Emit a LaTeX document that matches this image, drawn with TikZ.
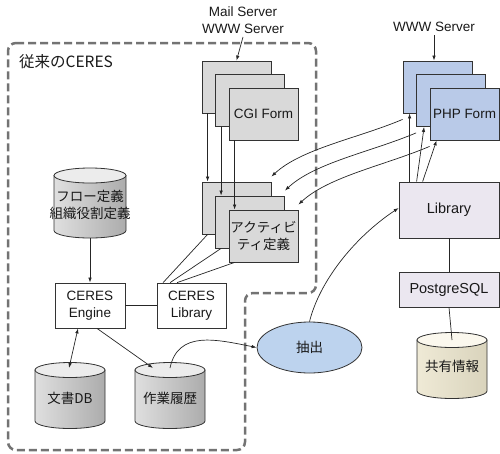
\documentclass[tikz,border=0pt]{standalone}
\usepackage{fontspec}
\setmainfont{Liberation Sans}
\newfontfamily\jp{Noto Sans CJK JP}
\usetikzlibrary{arrows.meta,shapes.geometric}
\definecolor{boxgray}{HTML}{D9D9D9}
\definecolor{phpblue}{HTML}{B9CAE8}
\definecolor{liblav}{HTML}{EBE7F0}
\definecolor{extblue}{HTML}{BDD3EE}
\definecolor{creamA}{HTML}{FBF8EE}
\definecolor{creamB}{HTML}{D9D3BC}
\definecolor{creamC}{HTML}{EFEAD6}
\newcommand{\mycyl}[7]{%
  \path[#7side, draw=black!80, line width=0.8pt] (#2-#5,#3) -- (#2-#5,#4)
    arc[start angle=180, end angle=360, x radius=#5pt, y radius=#6pt] -- (#2+#5,#3) -- cycle;
  \path[#7end, draw=black!80, line width=0.8pt] (#2,#3) ellipse[x radius=#5pt, y radius=#6pt];
  \coordinate (#1) at (#2,#3);
}
\begin{document}
\begin{tikzpicture}[x=1pt,y=-1pt,
  every node/.style={font=\fontsize{13.5}{17}\selectfont, align=center, text=black!90},
  jptext/.style={font=\jp\fontsize{13.5}{17}\selectfont},
  box/.style={draw=black!80, line width=0.8pt, inner sep=0pt},
  formbox/.style={box, minimum width=69pt, minimum height=52pt},
  graybox/.style={formbox, fill=boxgray},
  phpbox/.style={formbox, fill=phpblue},
  whitebox/.style={box, fill=white, minimum width=70pt, minimum height=45pt},
  libbox/.style={box, fill=liblav, minimum width=100pt, font=\fontsize{14.5}{17}\selectfont},
  conn/.style={draw=black!85, line width=0.7pt},
  arr/.style={conn, -{Latex[length=5pt,width=3.5pt]}},
  darr/.style={conn, {Latex[length=5pt,width=3.5pt]}-{Latex[length=5pt,width=3.5pt]}},
  grayside/.style={left color=gray!25, middle color=white, right color=gray!65},
  grayend/.style={fill=gray!15},
  creamside/.style={left color=creamC, middle color=creamA, right color=creamB},
  creamend/.style={fill=creamA},
  boundary/.style={draw=black!55, line width=2.5pt, dash pattern=on 8pt off 4pt, rounded corners=8pt}
]
\useasboundingbox (0,0) rectangle (500,453);

% dashed boundary of the legacy CERES
\path[boundary] (8,43) -- (316,43) -- (316,293) -- (245,293) -- (245,450) -- (8,450) -- cycle;
\node[font=\jp\fontsize{15.5}{18}\selectfont, anchor=west, inner sep=0pt] (title) at (19,62) {従来のCERES};

% labels
\node (mail) at (243,20) {Mail Server\\WWW Server};
\node (www) at (434,27) {WWW Server};

% CGI form stack
\node[graybox] (cgi1) at (236.5,87) {};
\node[graybox] (cgi2) at (250,100.5) {};
\node[graybox] (cgi3) at (263.5,114) {CGI Form};

% activity stack
\node[graybox] (act1) at (236.5,208) {};
\node[graybox] (act2) at (250,222) {};
\node[graybox, jptext] (act3) at (263.5,236) {アクティビ\\ティ定義};

% PHP form stack
\node[phpbox] (php1) at (437.5,87) {};
\node[phpbox] (php2) at (451,100.5) {};
\node[phpbox] (php3) at (464.5,114) {PHP Form};

% CERES engine and library
\node[whitebox] (eng) at (90,305.5) {CERES\\Engine};
\node[whitebox, minimum width=69pt] (clib) at (191.5,305.5) {CERES\\Library};

% right side
\node[libbox, minimum height=56pt] (lib) at (449,210) {Library};
\node[libbox, minimum height=35pt] (pg) at (449,289.5) {PostgreSQL};
\node[ellipse, draw=black!80, line width=0.8pt, fill=extblue, minimum width=105pt, minimum height=51pt, inner sep=0pt, jptext] (ext) at (309.5,347.5) {抽出};

% cylinders
\mycyl{flowtop}{90}{175.5}{230.5}{36}{7.5}{gray}
\node[jptext] (flow) at (90,205) {フロー定義\\組織役割定義};
\coordinate (flowbot) at (90,238);
\mycyl{doctop}{70}{370}{421}{35}{7.5}{gray}
\node[jptext] (doc) at (70,398) {文書DB};
\mycyl{histtop}{170}{370}{421}{35}{7.5}{gray}
\node[jptext] (hist) at (170,398) {作業履歴};
\mycyl{sharetop}{452}{340}{391}{35}{7.5}{cream}
\node[jptext] (share) at (452,366) {共有情報};

% server arrows
\draw[arr] (mail.south) -- (cgi1.north);
\draw[arr] (www.south) -- ([xshift=-3.5pt]php1.north);

% CGI -> activity
\draw[arr] ([xshift=6pt]cgi1.south west) -- ([xshift=6pt]act1.north west);
\draw[arr] ([xshift=6pt]cgi2.south west) -- ([xshift=6pt]act2.north west);
\draw[arr] ([xshift=6pt]cgi3.south west) -- ([xshift=6pt]act3.north west);

% activity -- CERES library
\draw[conn] ([xshift=6pt]act1.south west) -- ([xshift=6.5pt]clib.north west);
\draw[conn] ([xshift=6pt]act2.south west) -- ([xshift=13.5pt]clib.north west);
\draw[conn] ([xshift=6pt]act3.south west) -- ([xshift=20.5pt]clib.north west);

% PHP -> activity
\draw[arr] ([yshift=-6pt]php1.south west) .. controls +(-45,19) and +(30,-28) .. ([yshift=5pt]act1.north east);
\draw[arr] ([yshift=-6pt]php2.south west) .. controls +(-45,19) and +(30,-28) .. ([yshift=5pt]act2.north east);
\draw[arr] ([yshift=-6pt]php3.south west) .. controls +(-45,19) and +(30,-28) .. ([yshift=5pt]act3.north east);

% library -> PHP
\draw[arr] ([xshift=11pt]lib.north west) -- ([xshift=7pt]php1.south west);
\draw[arr] ([xshift=18pt]lib.north west) -- ([xshift=8pt]php2.south west);
\draw[arr] ([xshift=24pt]lib.north west) -- ([xshift=7pt]php3.south west);

% engine connections
\draw[conn] (eng.east) -- (clib.west);
\draw[arr] (flowbot) -- (eng.north);
\draw[darr] ([xshift=-12pt]eng.south) -- ([xshift=-1pt,yshift=2pt]doctop);
\draw[arr] ([xshift=7pt]eng.south) -- ([xshift=-17pt,yshift=2pt]histtop);

% extraction flow
\draw[arr] ([yshift=2pt]histtop) .. controls +(8,-38) and +(-40,-8) .. (ext.west);
\draw[arr] (ext.north) .. controls +(10,-40) and +(-45,30) .. ([yshift=2pt]lib.west);

% right stack
\draw[conn] (lib.south) -- (pg.north);
\draw[conn] (pg.south) -- (sharetop);
\end{tikzpicture}
\end{document}
